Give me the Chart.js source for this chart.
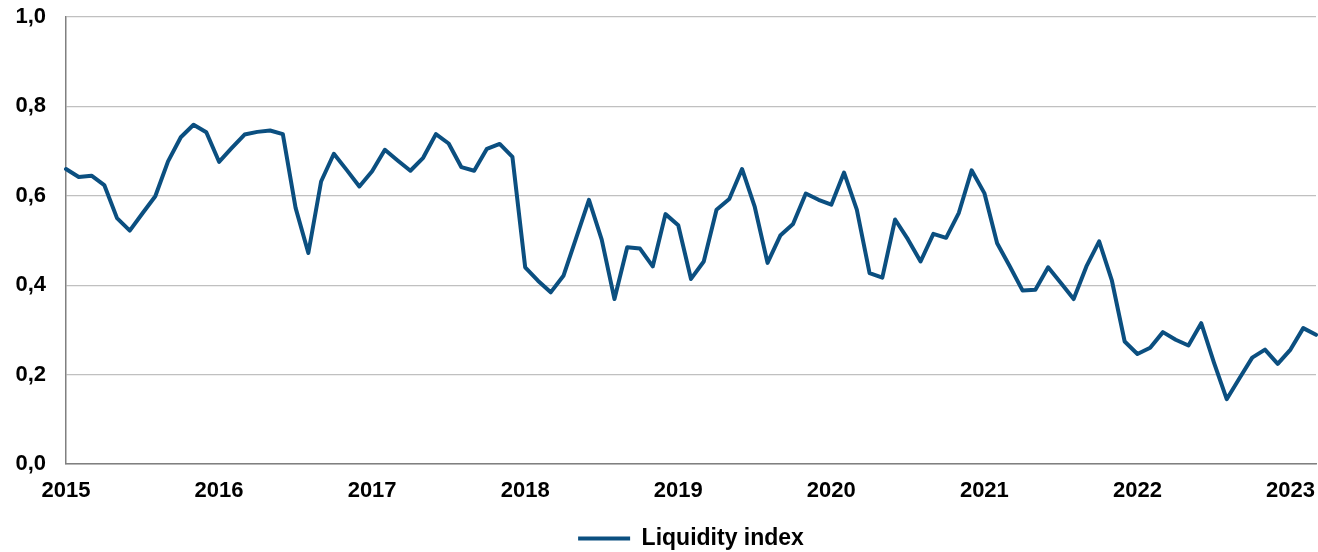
<!DOCTYPE html>
<html>
<head>
<meta charset="utf-8">
<script src="https://cdn.jsdelivr.net/npm/chart.js@4/dist/chart.umd.min.js"></script>
<style>
  html, body { margin: 0; padding: 0; background: #ffffff; }
  #wrap { width: 1318px; height: 552px; position: relative; }
</style>
</head>
<body>
<div id="wrap"><canvas id="c" width="1318" height="552"></canvas></div>
<script>
const categories = [
  '2015-01','2015-02','2015-03','2015-04','2015-05','2015-06','2015-07','2015-08','2015-09','2015-10','2015-11','2015-12',
  '2016-01','2016-02','2016-03','2016-04','2016-05','2016-06','2016-07','2016-08','2016-09','2016-10','2016-11','2016-12',
  '2017-01','2017-02','2017-03','2017-04','2017-05','2017-06','2017-07','2017-08','2017-09','2017-10','2017-11','2017-12',
  '2018-01','2018-02','2018-03','2018-04','2018-05','2018-06','2018-07','2018-08','2018-09','2018-10','2018-11','2018-12',
  '2019-01','2019-02','2019-03','2019-04','2019-05','2019-06','2019-07','2019-08','2019-09','2019-10','2019-11','2019-12',
  '2020-01','2020-02','2020-03','2020-04','2020-05','2020-06','2020-07','2020-08','2020-09','2020-10','2020-11','2020-12',
  '2021-01','2021-02','2021-03','2021-04','2021-05','2021-06','2021-07','2021-08','2021-09','2021-10','2021-11','2021-12',
  '2022-01','2022-02','2022-03','2022-04','2022-05','2022-06','2022-07','2022-08','2022-09','2022-10','2022-11','2022-12',
  '2023-01','2023-02','2023-03'
];

const liquidityIndex = [
  0.660, 0.642, 0.645, 0.624, 0.550, 0.522, 0.561, 0.599, 0.677, 0.731, 0.759, 0.742,
  0.676, 0.707, 0.737, 0.743, 0.746, 0.738, 0.573, 0.472, 0.632, 0.694, 0.658, 0.621,
  0.655, 0.703, 0.679, 0.656, 0.685, 0.738, 0.717, 0.664, 0.656, 0.705, 0.716, 0.687,
  0.440, 0.410, 0.384, 0.421, 0.506, 0.591, 0.502, 0.369, 0.485, 0.482, 0.442, 0.559,
  0.534, 0.414, 0.453, 0.569, 0.593, 0.660, 0.575, 0.450, 0.511, 0.537, 0.605, 0.591,
  0.580, 0.652, 0.569, 0.427, 0.417, 0.547, 0.503, 0.453, 0.515, 0.506, 0.562, 0.657,
  0.606, 0.494, 0.442, 0.388, 0.390, 0.440, 0.405, 0.369, 0.442, 0.498, 0.410, 0.274,
  0.246, 0.260, 0.295, 0.278, 0.265, 0.315, 0.227, 0.145, 0.192, 0.238, 0.256, 0.224,
  0.256, 0.304, 0.289
];

const yearTickLabels = ['2015','2016','2017','2018','2019','2020','2021','2022','2023'];
const yTickValues = [0, 0.2, 0.4, 0.6, 0.8, 1.0];
const seriesName = 'Liquidity index';

const FONT = { family: '"Liberation Sans", Arial, sans-serif', size: 22, weight: 'bold' };
const LEGEND_FONT = { family: '"Liberation Sans", Arial, sans-serif', size: 23, weight: 'bold' };
const LINE_COLOR = '#0b4f80';

new Chart(document.getElementById('c'), {
  type: 'line',
  data: {
    labels: categories,
    datasets: [{
      label: seriesName,
      data: liquidityIndex,
      borderColor: LINE_COLOR,
      backgroundColor: LINE_COLOR,
      borderWidth: 4,
      pointRadius: 0,
      pointHoverRadius: 0,
      tension: 0,
      borderJoinStyle: 'round',
      borderCapStyle: 'round'
    }]
  },
  options: {
    responsive: false,
    animation: false,
    events: [],
    layout: { padding: { top: 17, right: 2, left: 0, bottom: -8 } },
    plugins: {
      tooltip: { enabled: false },
      legend: {
        position: 'bottom',
        fullSize: false,
        labels: {
          color: '#000',
          font: LEGEND_FONT,
          usePointStyle: true,
          pointStyle: 'line',
          pointStyleWidth: 52,
          boxHeight: 22,
          padding: 0
        }
      }
    },
    scales: {
      x: {
        type: 'category',
        offset: false,
        grid: { display: false, drawTicks: false },
        border: { display: true, color: '#808080', width: 1.5 },
        ticks: {
          autoSkip: false,
          maxRotation: 0,
          minRotation: 0,
          padding: 14,
          color: '#000',
          font: FONT,
          callback: function (val, idx) {
            const c = categories[idx];
            if (c.endsWith('-01')) {
              const y = c.slice(0, 4);
              return yearTickLabels.includes(y) ? y : '';
            }
            return '';
          }
        },
        afterFit: function (scale) {
          scale.height = 63;
          scale.paddingLeft = 0;
          scale.paddingRight = 0;
        }
      },
      y: {
        min: 0,
        max: 1,
        grid: { color: '#c0c0c0', lineWidth: 1.2, drawTicks: false },
        border: { display: true, color: '#808080', width: 1.5 },
        afterBuildTicks: function (scale) {
          scale.ticks = yTickValues.map(v => ({ value: v }));
        },
        ticks: {
          padding: 20,
          color: '#000',
          font: FONT,
          callback: function (v) { return v.toFixed(1).replace('.', ','); }
        },
        afterFit: function (scale) {
          scale.width = 66;
          scale.paddingTop = 0;
          scale.paddingBottom = 0;
        }
      }
    }
  }
});
</script>
</body>
</html>
